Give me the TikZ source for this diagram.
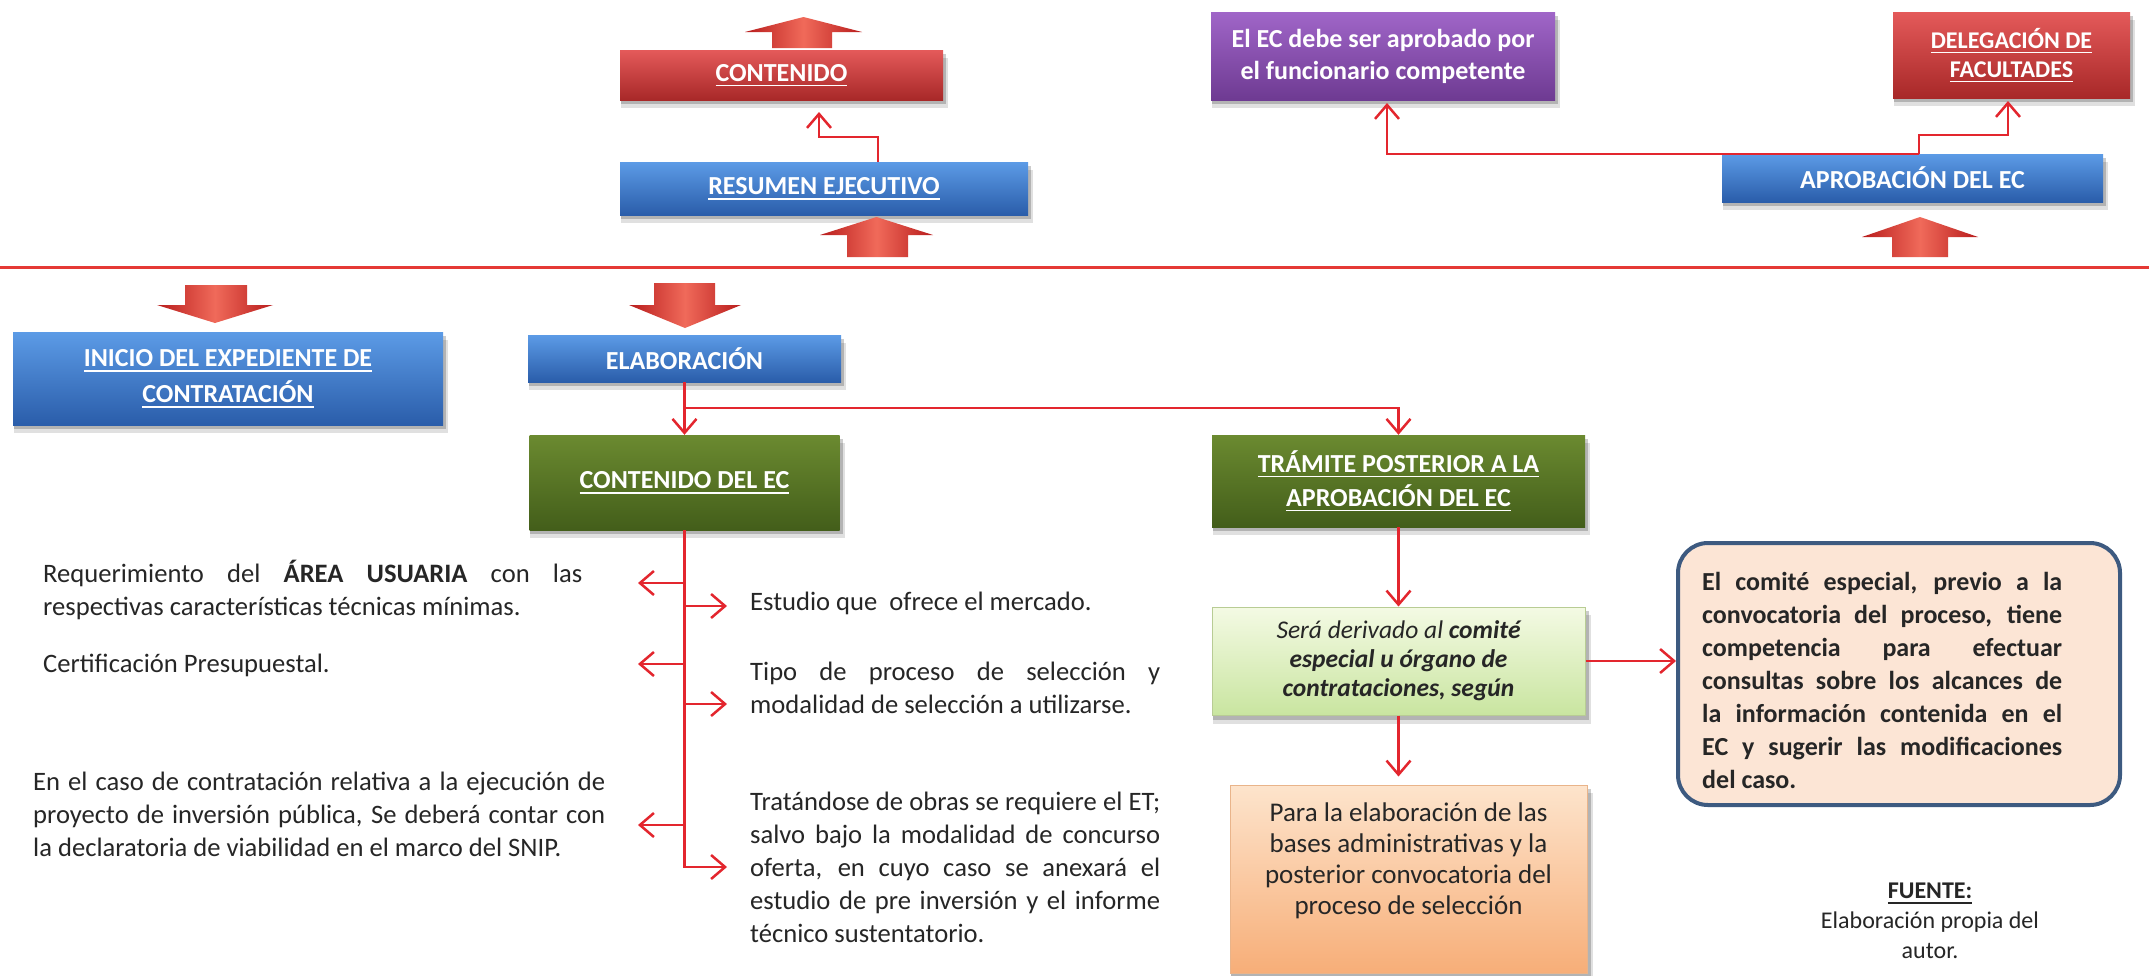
\documentclass[tikz,border=0pt]{standalone}
\usepackage{fontspec}
\setmainfont{Carlito}
\usetikzlibrary{arrows.meta,backgrounds}
\definecolor{lred}{HTML}{E3262E}
\definecolor{sepred}{HTML}{E53935}
\definecolor{blueT}{HTML}{5C9BE6}
\definecolor{blueB}{HTML}{2A5DAA}
\definecolor{redT}{HTML}{E45A5A}
\definecolor{redB}{HTML}{A82828}
\definecolor{purT}{HTML}{A066C8}
\definecolor{purB}{HTML}{6E3A92}
\definecolor{grnT}{HTML}{6B8A30}
\definecolor{grnB}{HTML}{435E1A}
\definecolor{lgrnT}{HTML}{F4FAE4}
\definecolor{lgrnB}{HTML}{C9E5A0}
\definecolor{lgrnD}{HTML}{B8CC94}
\definecolor{orgT}{HTML}{FDE4CC}
\definecolor{orgB}{HTML}{F7AE78}
\definecolor{orgD}{HTML}{E9B48A}
\definecolor{peachF}{HTML}{FCE5D5}
\definecolor{peachD}{HTML}{3D5A80}
\definecolor{fatL}{HTML}{F06A5A}
\definecolor{fatD}{HTML}{B81C1C}
\definecolor{txt}{HTML}{262626}
\newcommand{\jl}[2]{\makebox[#1][s]{#2}}
\newcommand{\ulx}[1]{\leavevmode\setbox0=\hbox{#1}\rlap{\rule[-5pt]{\wd0}{1.5pt}}\box0}
\begin{document}
\begin{tikzpicture}[x=1pt,y=-1pt,
  hdr/.style={rectangle, inner sep=0pt, text=white, font=\fontsize{26}{34}\selectfont\bfseries, align=center},
  bluebox/.style={hdr, top color=blueT, bottom color=blueB},
  redbox/.style={hdr, top color=redT, bottom color=redB},
  purplebox/.style={hdr, top color=purT, bottom color=purB},
  greenbox/.style={hdr, top color=grnT, bottom color=grnB},
  lightbox/.style={rectangle, inner sep=0pt, draw=lgrnD, line width=1pt, top color=lgrnT, bottom color=lgrnB, text=txt, font=\fontsize{25.5}{29}\selectfont\itshape, align=center},
  orangebox/.style={rectangle, inner sep=0pt, draw=orgD, line width=1pt, top color=orgT, bottom color=orgB},
  peachbox/.style={rectangle, inner sep=0pt, rounded corners=30pt, draw=peachD, line width=4pt, fill=peachF},
  body/.style={inner sep=0pt, text=txt, font=\fontsize{26.6}{33}\selectfont},
  conn/.style={draw=lred, line width=2.5pt, -{Straight Barb[length=14pt,width=24pt]}},
  fat/.style={left color=fatD, right color=fatD, middle color=fatL},
  sepline/.style={draw=sepred, line width=3pt},
]
\useasboundingbox (0,0) rectangle (2149,975);

% boxes
\node[redbox, minimum width=323pt, minimum height=50pt] (contenido) at (781.5,75) {\ulx{CONTENIDO}};
\node[bluebox, minimum width=408pt, minimum height=53pt] (resumen) at (824,188.5) {\ulx{RESUMEN EJECUTIVO}};
\node[purplebox, minimum width=344pt, minimum height=88pt, font=\fontsize{26}{32}\selectfont\bfseries] (purple) at (1383,56) {El EC debe ser aprobado por\\el funcionario competente};
\node[redbox, minimum width=237pt, minimum height=86pt, font=\fontsize{24}{29}\selectfont\bfseries] (delegacion) at (2011.5,55) {\ulx{DELEGACIÓN DE}\\\ulx{FACULTADES}};
\node[bluebox, minimum width=381pt, minimum height=48pt] (aprobacion) at (1912.5,178) {APROBACIÓN DEL EC};
\node[bluebox, minimum width=430pt, minimum height=93pt, font=\fontsize{26}{36}\selectfont\bfseries] (inicio) at (228,378.5) {\ulx{INICIO DEL EXPEDIENTE DE}\\\ulx{CONTRATACIÓN}};
\node[bluebox, minimum width=313pt, minimum height=47pt] (elaboracion) at (684.5,358.5) {ELABORACIÓN};
\node[greenbox, minimum width=310pt, minimum height=95pt] (contenidoec) at (684.5,482.5) {\ulx{CONTENIDO DEL EC}};
\node[greenbox, minimum width=373pt, minimum height=92pt] (tramite) at (1398.5,481) {\ulx{TRÁMITE POSTERIOR A LA}\\\ulx{APROBACIÓN DEL EC}};
\node[lightbox, minimum width=373pt, minimum height=108pt] (derivado) at (1398.5,661) {Será derivado al \textbf{comité}\\\textbf{especial u órgano de}\\\textbf{contrataciones, según}};
\node[peachbox, minimum width=442pt, minimum height=262pt] (peach) at (1899,674) {};
\node[orangebox, minimum width=357pt, minimum height=188pt] (orange) at (1408.5,879) {};

% shadows
\begin{scope}[on background layer]
  \fill[white] (0,0) rectangle (2149,975);
  \foreach \n in {contenido,resumen,purple,delegacion,aprobacion,inicio,elaboracion,contenidoec,tramite,derivado,orange}{
    \fill[black,opacity=0.12] ([xshift=1pt,yshift=-8pt]\n.south west) rectangle ([xshift=5pt,yshift=-8pt]\n.north east);
    \fill[black,opacity=0.2] ([xshift=1pt,yshift=-4pt]\n.south west) rectangle ([xshift=3pt,yshift=-4pt]\n.north east);
  }
\end{scope}

% texts
\node[body, font=\fontsize{26}{33}\selectfont\bfseries, anchor=base west] (peachtext) at (1702,590) {\begin{minipage}[t]{360pt}%
\jl{360pt}{El comité especial, previo a la}\\
\jl{360pt}{convocatoria del proceso, tiene}\\
\jl{360pt}{competencia para efectuar}\\
\jl{360pt}{consultas sobre los alcances de}\\
\jl{360pt}{la información contenida en el}\\
\jl{360pt}{EC y sugerir las modificaciones}\\
del caso.\end{minipage}};
\node[body, font=\fontsize{27}{31}\selectfont, align=center] (orangetext) at (1408.5,861) {Para la elaboración de las\\bases administrativas y la\\posterior convocatoria del\\proceso de selección};
\node[body, font=\fontsize{24}{30}\selectfont, align=center] (fuente) at (1930,921) {\textbf{\ulx{FUENTE:}}\\Elaboración propia del\\autor.};

\node[body, anchor=base west] (req) at (43,582) {\begin{minipage}[t]{539pt}%
\jl{539pt}{Requerimiento del \textbf{ÁREA USUARIA} con las}\\
respectivas características técnicas mínimas.\end{minipage}};
\node[body, anchor=base west] (cert) at (43,672) {Certificación Presupuestal.};
\node[body, anchor=base west] (caso) at (33,790) {\begin{minipage}[t]{572pt}%
\jl{572pt}{En el caso de contratación relativa a la ejecución de}\\
\jl{572pt}{proyecto de inversión pública, Se deberá contar con}\\
la declaratoria de viabilidad en el marco del SNIP.\end{minipage}};
\node[body, anchor=base west] (estudio) at (750,610) {Estudio que\ \ ofrece el mercado.};
\node[body, anchor=base west] (tipo) at (750,680) {\begin{minipage}[t]{410pt}%
\jl{410pt}{Tipo de proceso de selección y}\\
modalidad de selección a utilizarse.\end{minipage}};
\node[body, anchor=base west] (obras) at (750,810) {\begin{minipage}[t]{410pt}%
\jl{410pt}{Tratándose de obras se requiere el ET;}\\
\jl{410pt}{salvo bajo la modalidad de concurso}\\
\jl{410pt}{oferta, en cuyo caso se anexará el}\\
\jl{410pt}{estudio de pre inversión y el informe}\\
técnico sustentatorio.\end{minipage}};

% separator
\coordinate (sepL) at (0,267);
\coordinate (sepR) at (2149,267);
\draw[sepline] (sepL) -- (sepR);

% fat arrows
\path[fat] (772,48) -- (772,32) -- (745,32) -- (803.5,17) -- (862,32) -- (832,32) -- (832,48) -- cycle;
\path[fat] (847,257) -- (847,235) -- (820,235) -- (876.5,217) -- (933,235) -- (908,235) -- (908,257) -- cycle;
\path[fat] (1892,257) -- (1892,237) -- (1862,237) -- (1920,217) -- (1978,237) -- (1948,237) -- (1948,257) -- cycle;
\path[fat] (185,285) -- (247,285) -- (247,305) -- (273,305) -- (215,323) -- (157,305) -- (185,305) -- cycle;
\path[fat] (654,283) -- (715,283) -- (715,305) -- (741,305) -- (685,328) -- (629,305) -- (654,305) -- cycle;

% connectors top
\coordinate (r1) at (878,137);
\coordinate (r2) at (819,112);
\draw[conn] (resumen.north -| r1) -- (r1) -- (r2 |- r1) -- (r2);
\coordinate (a1) at (1919,154);
\coordinate (a2) at (1919,135);
\coordinate (p1) at (1387,103);
\coordinate (d1) at (2008,101);
\draw[conn] (aprobacion.north -| a1) -| (p1);
\draw[conn] (aprobacion.north -| a1) -- (a2) -| (d1);

% connectors bottom
\coordinate (ebr) at (684.5,408);
\draw[conn] (elaboracion.south) -- (elaboracion.south |- contenidoec.north);
\draw[conn] (ebr) -| (tramite.north);
\coordinate (lA) at (638,583);
\coordinate (lB) at (638,664);
\coordinate (lC) at (638,825);
\coordinate (rA) at (727,606);
\coordinate (rB) at (727,704);
\coordinate (rC) at (727,867);
\draw[conn] (contenidoec.south) |- (rC);
\draw[conn] (contenidoec.south |- lA) -- (lA);
\draw[conn] (contenidoec.south |- lB) -- (lB);
\draw[conn] (contenidoec.south |- lC) -- (lC);
\draw[conn] (contenidoec.south |- rA) -- (rA);
\draw[conn] (contenidoec.south |- rB) -- (rB);
\draw[conn] (tramite.south) -- (derivado.north);
\draw[conn] (derivado.east) -- (peach.west |- derivado.east);
\draw[conn, shorten >=8pt] (derivado.south) -- (derivado.south |- orange.north);
\end{tikzpicture}
\end{document}
